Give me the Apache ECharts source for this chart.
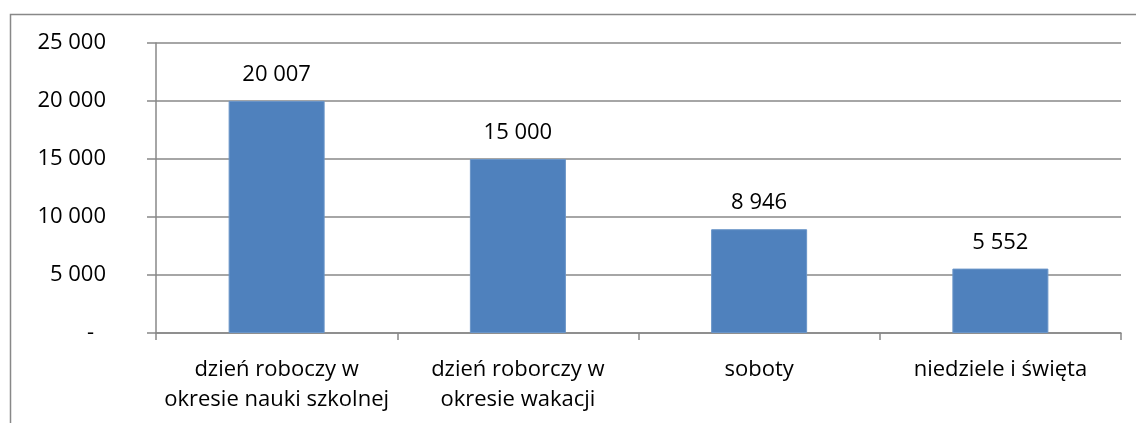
<!DOCTYPE html>
<html>
<head>
<meta charset="utf-8">
<script src="https://cdn.jsdelivr.net/npm/echarts@6/dist/echarts.min.js"></script>
<style>
  html, body { margin: 0; padding: 0; background: #fff; }
  #chart { width: 1136px; height: 423px; }
</style>
</head>
<body>
<div id="chart"></div>
<script>
var categories = ['dzień roboczy w\nokresie nauki szkolnej', 'dzień roborczy w\nokresie wakacji', 'soboty', 'niedziele i święta']
var values = [20007, 15000, 8946, 5552]
var yTicks = [0, 5000, 10000, 15000, 20000, 25000]

function fmt(v) {
  if (v === 0) return '-'
  return String(v).replace(/\B(?=(\d{3})+(?!\d))/g, ' ')
}

var font = '"Open Sans", sans-serif'
var gray = '#888888'

var chart = echarts.init(document.getElementById('chart'))
chart.setOption({
  animation: false,
  grid: { left: 156, right: 15, top: 43, bottom: 90 },
  graphic: [{
    type: 'rect',
    shape: { x: 10.5, y: 14.5, width: 1140, height: 500 },
    style: { fill: 'none', stroke: gray, lineWidth: 1.5 },
    silent: true
  }],
  xAxis: {
    type: 'category',
    data: categories,
    axisLine: { lineStyle: { color: gray, width: 1.5 } },
    axisTick: { show: true, length: 7, interval: 0, lineStyle: { color: gray, width: 1.5 } },
    axisLabel: { color: '#000', fontSize: 22, fontFamily: font, lineHeight: 30, margin: 22, interval: 0 }
  },
  yAxis: {
    type: 'value',
    min: yTicks[0],
    max: yTicks[yTicks.length - 1],
    interval: 5000,
    axisLine: { show: true, lineStyle: { color: gray, width: 1.5 } },
    axisTick: { show: true, length: 9, lineStyle: { color: gray, width: 1.5 } },
    splitLine: { lineStyle: { color: gray, width: 1.5 } },
    axisLabel: {
      color: '#000',
      fontSize: 22,
      fontFamily: font,
      margin: 50,
      formatter: function (v) { return v === 0 ? '{dash|-}' : fmt(v) },
      rich: {
        dash: { fontSize: 22, fontFamily: font, color: '#000', padding: [0, 12, 0, 0] }
      }
    }
  },
  series: [{
    type: 'bar',
    data: values,
    barWidth: 96,
    itemStyle: { color: '#4F81BD', borderColor: '#6a95c8', borderWidth: 1 },
    label: {
      show: true,
      position: 'top',
      distance: 15,
      color: '#000',
      fontSize: 22,
      fontFamily: font,
      formatter: function (p) { return fmt(p.value) }
    }
  }]
})
</script>
</body>
</html>
